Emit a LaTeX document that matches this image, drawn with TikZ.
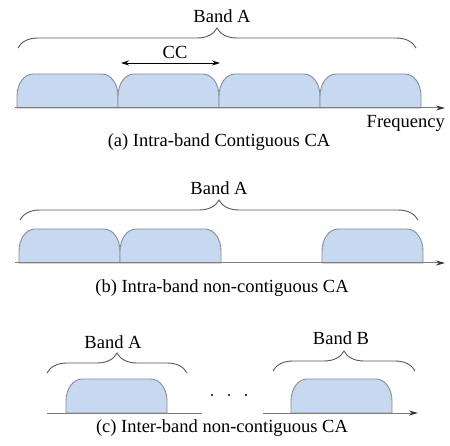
\documentclass[tikz,border=0pt]{standalone}
\usepackage{fontspec}
\setmainfont{Liberation Serif}
\usetikzlibrary{arrows.meta,decorations.pathreplacing}
\definecolor{ccblue}{RGB}{198,217,240}
\definecolor{ccedge}{RGB}{140,140,140}
\definecolor{axisgray}{RGB}{125,125,125}
\tikzset{
  carrier/.style={fill=ccblue,draw=ccedge,line width=0.9pt},
  freqaxis/.style={draw=axisgray,line width=1pt},
  freqarrow/.style={freqaxis,-{Stealth[length=9pt,width=5pt,color=black!80]}},
  bandbrace/.style={draw=black!65,line width=0.9pt,decorate,decoration={brace,amplitude=20pt}},
  lbl/.style={font=\fontsize{18.5}{22}\selectfont,inner sep=0pt}
}
% one component carrier: left edge x, base y, width 101
\newcommand{\carrier}[2]{\draw[carrier] (#1,#2) -- ++(0,12) arc[start angle=180,end angle=90,x radius=16,y radius=22] -- ++(69,0) arc[start angle=90,end angle=0,x radius=16,y radius=22] -- ++(0,-12) -- cycle;}
\begin{document}
\begin{tikzpicture}[x=1pt,y=1pt]
\useasboundingbox (0,0) rectangle (450,445);
% (a)
\foreach \cx in {17,118,219,320} {\carrier{\cx}{337}}
\coordinate (a0) at (15,337);
\coordinate (a1) at (445,337);
\draw[freqarrow] (a0) -- (a1);
\coordinate (ab0) at (18,397);
\coordinate (ab1) at (416,397);
\draw[bandbrace] (ab0) -- (ab1);
\node[lbl] (bandAa) at (222,429) {Band A};
\coordinate (cc0) at (121,382);
\coordinate (cc1) at (220,382);
\draw[{Stealth[length=8pt,width=5pt]}-{Stealth[length=8pt,width=5pt]},line width=0.9pt] (cc0) -- (cc1);
\node[lbl] (cc) at (175,393) {CC};
\node[lbl,anchor=east] (freq) at (445,322) {Frequency};
\node[lbl] (capa) at (219,303) {(a) Intra-band Contiguous CA};
% (b)
\foreach \cx in {19,120,322} {\carrier{\cx}{182}}
\coordinate (b0) at (15,182);
\coordinate (b1) at (445,182);
\draw[freqarrow] (b0) -- (b1);
\coordinate (bb0) at (20,225);
\coordinate (bb1) at (418,225);
\draw[bandbrace] (bb0) -- (bb1);
\node[lbl] (bandAb) at (219,257) {Band A};
\node[lbl] (capb) at (222,157) {(b) Intra-band non-contiguous CA};
% (c)
\carrier{66}{32}
\carrier{291}{32}
\coordinate (c0) at (47,32);
\coordinate (c1) at (202,32);
\coordinate (c2) at (263,32);
\coordinate (c3) at (418,32);
\draw[freqaxis] (c0) -- (c1);
\draw[freqarrow] (c2) -- (c3);
\coordinate (cbA0) at (47,72);
\coordinate (cbA1) at (187,72);
\coordinate (cbB0) at (273,74);
\coordinate (cbB1) at (415,74);
\draw[bandbrace] (cbA0) -- (cbA1);
\draw[bandbrace] (cbB0) -- (cbB1);
\node[lbl] (bandAc) at (113,103) {Band A};
\node[lbl] (bandBc) at (341,107) {Band B};
\foreach \dx in {212,229,246} {\fill (\dx,50) circle[radius=1.2];}
\node[lbl] (capc) at (222,17) {(c) Inter-band non-contiguous CA};
\end{tikzpicture}
\end{document}
